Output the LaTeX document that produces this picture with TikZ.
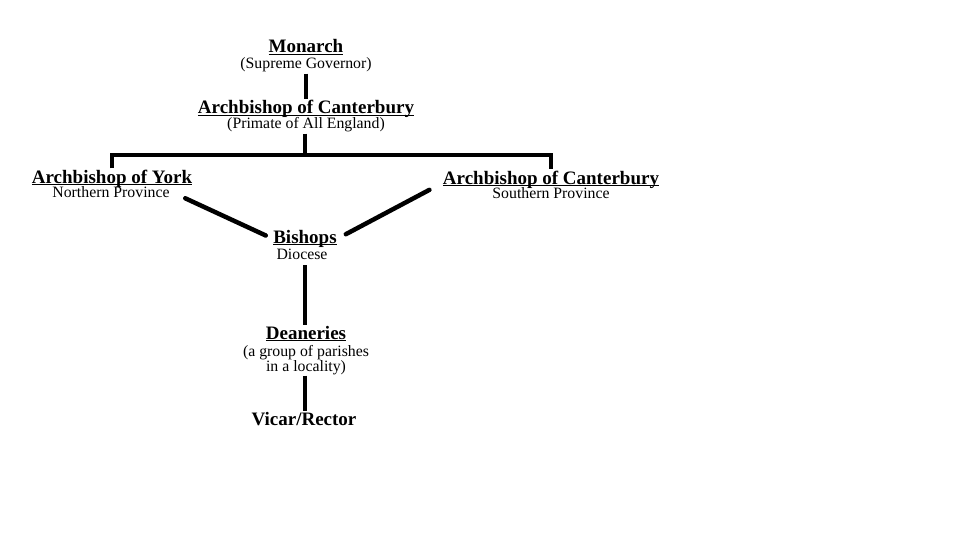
\documentclass[tikz,border=0pt]{standalone}
\usepackage{fontspec}
\setmainfont{Liberation Serif}
\newcommand\headline[1]{\setbox0\hbox{#1}\rlap{\rule[-2.3pt]{\wd0}{1.2pt}}\box0}

\begin{document}
\begin{tikzpicture}[x=1pt, y=-1pt, inner sep=1pt,
    title/.style={anchor=base, font=\fontsize{19}{22}\selectfont\bfseries},
    sub/.style={anchor=base, font=\fontsize{15.8}{15}\selectfont, align=center},
    bar/.style={line width=3.5pt},
    brush/.style={line width=4.5pt, line cap=round}]
            \useasboundingbox (0, 0) rectangle (960, 540);
            \node[title] (monarch) at (306, 53) {\headline{Monarch}};
            \node[sub] (monarchSub) at (306, 69) {(Supreme Governor)};
            \node[title] (primate) at (306, 114) {\headline{Archbishop of Canterbury}};
            \node[sub] (primateSub) at (306, 129) {(Primate of All England)};
            \node[title] (york) at (112, 183) {\headline{Archbishop of York}};
            \node[sub] (yorkSub) at (111, 197) {Northern Province};
            \node[title] (south) at (551, 184) {\headline{Archbishop of Canterbury}};
            \node[sub] (southSub) at (551, 198) {Southern Province};
            \node[title] (bishops) at (305, 243) {\headline{Bishops}};
            \node[sub] (bishopsSub) at (302, 259) {Diocese};
            \node[title] (deaneries) at (306, 339) {\headline{Deaneries}};
            \node[sub] (deaneriesSub) at (306, 371) {(a group of parishes\\in a locality)};
            \node[title] (vicar) at (304, 425) {Vicar/Rector};
            \coordinate (junction) at (305, 155);
            \draw[bar] (monarchSub.south -| monarch.south) -- (primate.north -| monarch.south);
            \draw[bar] (primateSub.south -| junction) -- (junction);
            \draw[bar] (york.north) |- (junction) -| (south.north);
            \draw[brush, shorten <=16pt, shorten >=7pt] (yorkSub.east) -- (bishops.west);
            \draw[brush, shorten <=14pt, shorten >=9pt] ([yshift=6pt]south.south west) -- (bishops.east);
            \draw[bar, shorten <=5pt] (bishopsSub.south -| bishops.south) -- (deaneries.north -| bishops.south);
            \draw[bar] (deaneriesSub.south -| bishops.south) -- (vicar.north -| bishops.south);
        \end{tikzpicture}
\end{document}
